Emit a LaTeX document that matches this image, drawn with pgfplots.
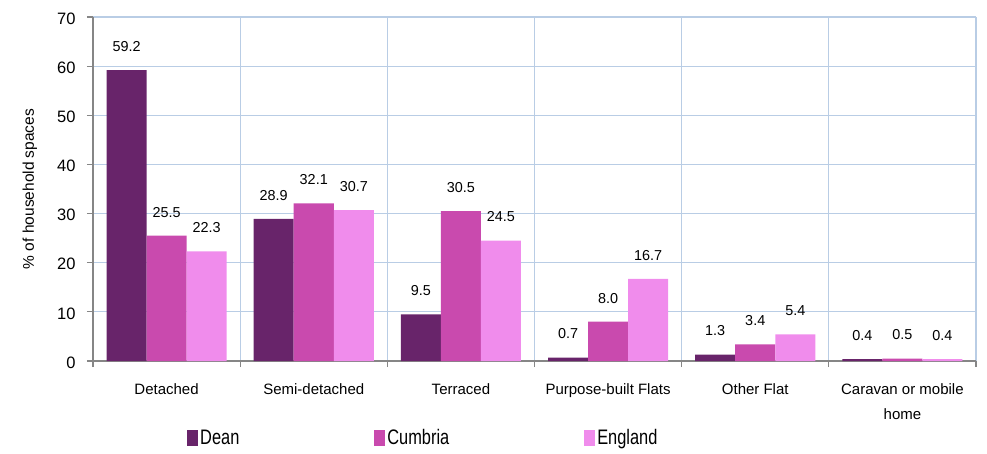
\documentclass[border=0pt]{standalone}
\usepackage{graphicx}
\usepackage{pgfplots}
\pgfplotsset{compat=1.18}
\usepackage{fontspec}
\setmainfont{Liberation Sans}
\definecolor{dean}{RGB}{104,36,106}
\definecolor{cumbria}{RGB}{201,74,174}
\definecolor{england}{RGB}{240,140,236}
\definecolor{gridblue}{RGB}{185,205,229}
\definecolor{axgray}{RGB}{134,134,134}
\newcommand{\legtxt}[1]{\scalebox{0.78}[1]{#1}}
\begin{document}
\begin{tikzpicture}[x=1pt,y=1pt]
\path[use as bounding box] (-93,-92) rectangle (894,361);
\begin{axis}[
  at={(0,0)}, anchor=south west,
  scale only axis, width=883pt, height=344pt,
  /pgf/number format/assume math mode=true,
  xmin=-0.5, xmax=5.5, ymin=0, ymax=70,
  ytick={0,10,...,70},
  xtick={0,...,5},
  xticklabels={Detached,Semi-detached,Terraced,Purpose-built Flats,Other Flat,{Caravan or mobile\\[7pt] home}},
  minor xtick={-0.5,0.5,...,5.5},
  xminorgrids=true, ymajorgrids=true,
  grid style={gridblue, line width=1.2pt},
  minor grid style={gridblue, line width=1.2pt},
  axis x line*=bottom, axis y line*=left,
  axis line style={axgray, line width=1.1pt},
  major x tick style={draw=none},
  minor x tick style={axgray, line width=1.1pt},
  major y tick style={axgray, line width=1.1pt},
  tick align=outside,
  major tick length=6pt, minor tick length=6pt,
  separate axis lines,
  x axis line style={-}, y axis line style={-},
  yticklabel style={font=\fontsize{16.5}{19}\selectfont, xshift=-8pt, yshift=-1.5pt},
  xticklabel style={font=\fontsize{15}{18}\selectfont, align=center, yshift=-13pt},
  ylabel={\% of household spaces},
  ylabel style={font=\fontsize{15.5}{18}\selectfont, at={(axis description cs:-0.0716,0.5)}, anchor=center},
  ybar=0pt, bar width=0.272,
  nodes near coords,
  nodes near coords style={font=\fontsize{14.4}{17}\selectfont, black, yshift=15pt, /pgf/number format/.cd, fixed, fixed zerofill, precision=1},
  legend columns=3,
  legend style={at={(axis description cs:0.1065,-0.224)}, anchor=west, draw=none, fill=none,
    font=\fontsize{21}{23}\selectfont, inner sep=0pt,
    /tikz/every even column/.append style={column sep=133pt}},
  legend image code/.code={\fill[#1] (0pt,-8pt) rectangle (11pt,8pt);},
]
\addplot[fill=dean, draw=none] coordinates {(0,59.2) (1,28.9) (2,9.5) (3,0.7) (4,1.3) (5,0.4)};
\addplot[fill=cumbria, draw=none] coordinates {(0,25.5) (1,32.1) (2,30.5) (3,8.0) (4,3.4) (5,0.5)};
\addplot[fill=england, draw=none] coordinates {(0,22.3) (1,30.7) (2,24.5) (3,16.7) (4,5.4) (5,0.4)};
\legend{\legtxt{Dean},\legtxt{Cumbria},\legtxt{England}}
\end{axis}
\end{tikzpicture}
\end{document}
